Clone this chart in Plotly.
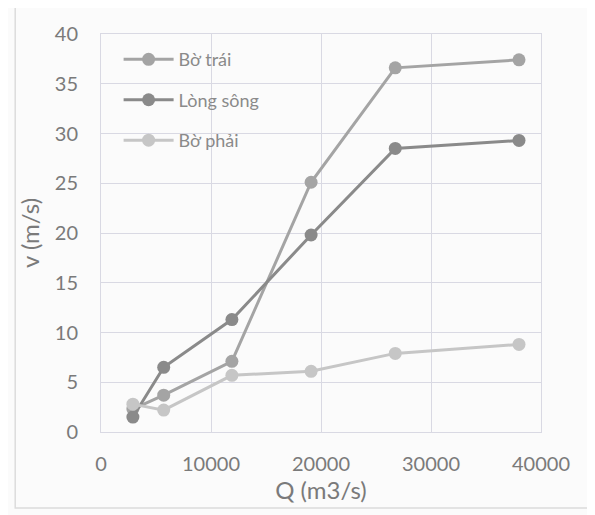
import plotly.graph_objects as go

q_values = [2900, 5700, 11900, 19100, 26750, 38000]
bo_trai = [2.3, 3.7, 7.1, 25.1, 36.6, 37.4]
long_song = [1.5, 6.5, 11.3, 19.8, 28.5, 29.3]
bo_phai = [2.8, 2.2, 5.7, 6.1, 7.9, 8.8]

series_names = ["Bờ trái", "Lòng sông", "Bờ phải"]
series_colors = ["#a4a4a4", "#8a8a8a", "#c6c6c6"]
x_ticks = [0, 10000, 20000, 30000, 40000]
y_ticks = [0, 5, 10, 15, 20, 25, 30, 35, 40]

fig = go.Figure()
for i, (name, ys, col) in enumerate(zip(series_names, [bo_trai, long_song, bo_phai], series_colors)):
    fig.add_trace(go.Scatter(
        x=q_values, y=ys, name=name, mode="lines+markers",
        line=dict(color=col, width=3),
        marker=dict(color=col, size=13),
        legendgroup=f"g{i}",
    ))

# page body has an 8px margin, so the figure is sized to fit the window
fig.update_layout(
    width=587, height=507,
    margin=dict(l=93, r=54, t=26, b=83, autoexpand=False),
    paper_bgcolor="#fbfbfb", plot_bgcolor="#fbfbfb",
    font=dict(family="Lato, Open Sans, sans-serif", color="#7a7a7a", size=20),
    showlegend=True,
    legend=dict(x=0.04, y=0.982, xanchor="left", yanchor="top",
                bgcolor="rgba(0,0,0,0)", tracegroupgap=14,
                font=dict(size=18, color="#8a8a8a"), itemwidth=50),
    xaxis=dict(range=[0, 40000], tickvals=x_ticks, ticktext=[str(v) for v in x_ticks],
               showgrid=True, gridcolor="#d9d9e3", gridwidth=1, automargin=False,
               zeroline=False, showline=True, linecolor="#d9d9e3", mirror=True,
               title=dict(text="Q (m3/s)", font=dict(size=24, color="#7a7a7a"), standoff=4),
               ticks="", tickfont=dict(size=20), ticklabelstandoff=14),
    yaxis=dict(range=[0, 40], tickvals=y_ticks, automargin=False,
               showgrid=True, gridcolor="#d9d9e3", gridwidth=1,
               zeroline=False, showline=True, linecolor="#d9d9e3", mirror=True,
               title=dict(text="v (m/s)", font=dict(size=24, color="#7a7a7a"), standoff=8),
               ticks="", tickfont=dict(size=20), ticklabelstandoff=18),
)

fig.add_shape(type="rect", xref="paper", yref="paper",
              x0=-0.195, x1=1.111, y0=-0.191, y1=1.068,
              line=dict(color="#dcdcdc", width=1.5), layer="below")

fig.write_html("out.html")
